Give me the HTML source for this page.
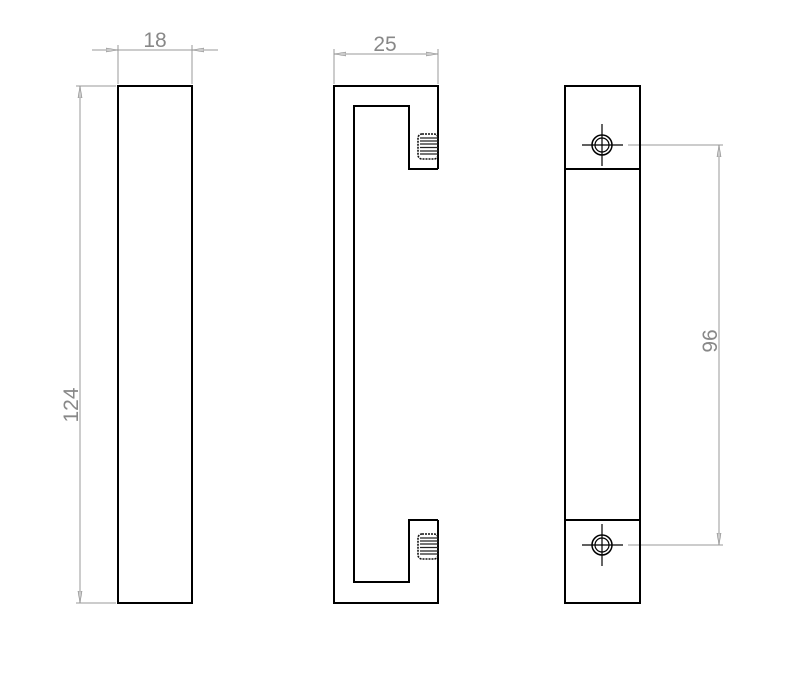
<!DOCTYPE html>
<html><head><meta charset="utf-8"><style>html,body{margin:0;padding:0;background:#fff}svg{display:block}</style></head>
<body>
<svg width="800" height="676" viewBox="0 0 800 676" xmlns="http://www.w3.org/2000/svg">
<defs>
<marker id="a" viewBox="0 0 12 6" refX="12" refY="3" markerWidth="12" markerHeight="6" orient="auto-start-reverse" markerUnits="userSpaceOnUse">
<path d="M0,1 L12,3 L0,5 Z" fill="#ccc" stroke="#888" stroke-width="0.6"/>
</marker>
</defs>
<g font-family="Liberation Sans, sans-serif" font-size="21" fill="#888">
<text x="155" y="47" text-anchor="middle">18</text>
<text x="385" y="51" text-anchor="middle">25</text>
<text transform="translate(78,405) rotate(-90)" text-anchor="middle">124</text>
<text transform="translate(717,341) rotate(-90)" text-anchor="middle">96</text>
</g>
<g stroke="#999" stroke-width="1" fill="none">
<line x1="118" y1="45" x2="118" y2="84"/><line x1="192" y1="45" x2="192" y2="84"/>
<line x1="92" y1="50" x2="218" y2="50"/>
<line x1="92" y1="50" x2="118" y2="50" marker-end="url(#a)"/>
<line x1="218" y1="50" x2="192" y2="50" marker-end="url(#a)"/>
<line x1="76" y1="86" x2="116" y2="86"/><line x1="76" y1="603" x2="116" y2="603"/>
<line x1="80" y1="86" x2="80" y2="603" marker-start="url(#a)" marker-end="url(#a)"/>
<line x1="334" y1="49" x2="334" y2="84"/><line x1="438" y1="49" x2="438" y2="84"/>
<line x1="334" y1="54" x2="438" y2="54" marker-start="url(#a)" marker-end="url(#a)"/>
<line x1="628" y1="145" x2="723" y2="145"/><line x1="628" y1="545" x2="723" y2="545"/>
<line x1="719" y1="145" x2="719" y2="545" marker-start="url(#a)" marker-end="url(#a)"/>
</g>
<g stroke="#000" stroke-width="2" fill="none">
<rect x="118" y="86" width="74" height="517"/>
<path d="M438,169 V86 H334 V603 H438 V520"/>
<path d="M438,169 H409 V106 H354 V582 H409 V520 H438"/>
<rect x="565" y="86" width="75" height="517"/>
<line x1="565" y1="169" x2="640" y2="169"/>
<line x1="565" y1="520" x2="640" y2="520"/>
<circle cx="602" cy="145" r="10" stroke-width="1.5"/><circle cx="602" cy="545" r="10" stroke-width="1.5"/>
</g>
<g stroke="#000" stroke-width="1.2" fill="none">
<circle cx="602" cy="145" r="7"/><circle cx="602" cy="545" r="7"/>
<line x1="582" y1="145" x2="623" y2="145"/><line x1="602" y1="124" x2="602" y2="166"/>
<line x1="582" y1="545" x2="623" y2="545"/><line x1="602" y1="524" x2="602" y2="566"/>
</g>
<g stroke="#111" stroke-width="1.6" fill="none">
<rect x="418" y="134" width="20" height="25" rx="4" stroke-dasharray="2,1"/>
<rect x="418" y="534" width="20" height="25" rx="4" stroke-dasharray="2,1"/>
</g>
<g stroke="#222" stroke-width="1.3">
<path d="M420,138 H438 M420,141 H438 M420,144 H438 M420,147.5 H438 M420,151 H438 M420,154 H438"/>
<path d="M420,538 H438 M420,541 H438 M420,544 H438 M420,547.5 H438 M420,551 H438 M420,554 H438"/>
</g>
</svg>
</body></html>
